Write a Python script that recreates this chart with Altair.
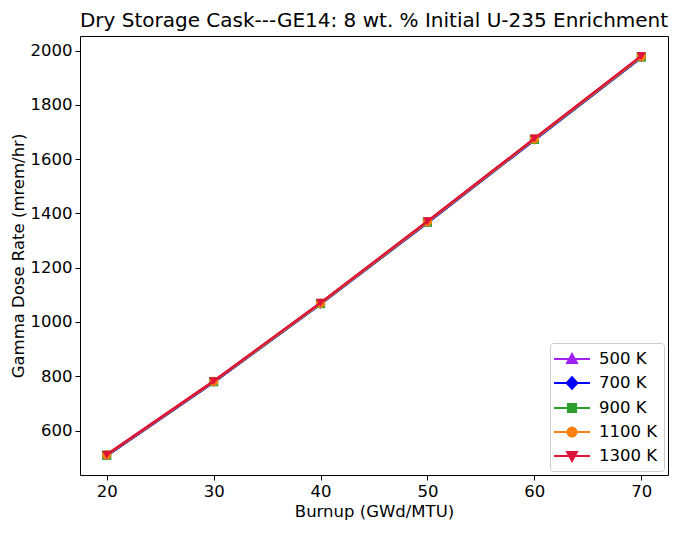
import altair as alt
import pandas as pd

burnup = [20, 30, 40, 50, 60, 70]
series_names = ["500 K", "700 K", "900 K", "1100 K", "1300 K"]
dose_500 = [508, 779, 1067, 1367, 1672, 1976]
dose_700 = [507, 778, 1066, 1366, 1671, 1975]
dose_900 = [509, 780, 1068, 1368, 1673, 1977]
dose_1100 = [510, 781, 1069, 1369, 1674, 1978]
dose_1300 = [511, 782, 1071, 1371, 1676, 1980]
colors = ["#a020f0", "#0000ff", "#2ca02c", "#ff7f0e", "#dc143c"]
markers = ["triangle-up", "diamond", "square", "circle", "triangle-down"]
legend_paths = [
    "M-2,0H2M-0.55,0.45L0,-0.55L0.55,0.45Z",
    "M-2,0H2M0,-0.65L0.6,0L0,0.65L-0.6,0Z",
    "M-2,0H2M-0.45,-0.45H0.45V0.45H-0.45Z",
    "M-2,0H2M-0.5,0A0.5,0.5 0 1,0 0.5,0A0.5,0.5 0 1,0 -0.5,0Z",
    "M-2,0H2M-0.55,-0.45L0,0.55L0.55,-0.45Z",
]

all_doses = [dose_500, dose_700, dose_900, dose_1100, dose_1300]
rows = []
for name, vals in zip(series_names, all_doses):
    for b, v in zip(burnup, vals):
        rows.append({"series": name, "burnup": b, "dose": v})
df = pd.DataFrame(rows)

x_enc = alt.X("burnup:Q", scale=alt.Scale(domain=[17.5, 72.5], nice=False, zero=False),
              axis=alt.Axis(title="Burnup (GWd/MTU)", values=[20, 30, 40, 50, 60, 70], format="d"))
y_enc = alt.Y("dose:Q", scale=alt.Scale(domain=[436, 2054], nice=False, zero=False),
              axis=alt.Axis(title="Gamma Dose Rate (mrem/hr)", format="d",
                            values=[600, 800, 1000, 1200, 1400, 1600, 1800, 2000]))

layers = []
for name, col, mk in zip(series_names, colors, markers):
    base = alt.Chart(df).transform_filter(alt.datum.series == name)
    layers.append(base.mark_line(color=col, strokeWidth=2.5).encode(x=x_enc, y=y_enc))
    layers.append(base.mark_point(filled=True, color=col, shape=mk, size=85, opacity=1).encode(x=x_enc, y=y_enc))

leg = alt.Legend(orient="bottom-right", offset=4, symbolOpacity=1)
legend_layer = alt.Chart(df).transform_filter(alt.datum.burnup == 20).mark_point(filled=True).encode(
    x=x_enc, y=y_enc,
    opacity=alt.value(0),
    fill=alt.Fill("series:N", scale=alt.Scale(domain=series_names, range=colors), title=None, legend=leg),
    stroke=alt.Stroke("series:N", scale=alt.Scale(domain=series_names, range=colors), title=None, legend=leg),
    shape=alt.Shape("series:N", scale=alt.Scale(domain=series_names, range=legend_paths), title=None, legend=leg),
)

chart = alt.layer(*layers, legend_layer).properties(
    width=588, height=439,
    title=alt.Title("Dry Storage Cask---GE14: 8 wt. % Initial U-235 Enrichment",
                    font="DejaVu Sans", fontSize=20, fontWeight="normal", color="#000000", offset=5),
    autosize=alt.AutoSizeParams(type="none"),
    padding={"left": 72, "top": 28, "right": 1, "bottom": 46},
).configure_view(
    stroke="#000000", strokeWidth=1
).configure_axis(
    grid=False, domain=False, tickColor="#000000", tickSize=5, tickWidth=1,
    labelFont="DejaVu Sans", labelFontSize=16.5, labelColor="#000000",
    titleFont="DejaVu Sans", titleFontSize=16.5, titleFontWeight="normal", titleColor="#000000",
    labelPadding=3,
).configure_axisX(titlePadding=4).configure_axisY(titlePadding=4).configure_legend(
    labelFont="DejaVu Sans", labelFontSize=16.5, labelColor="#000000",
    symbolSize=324, symbolStrokeWidth=2, symbolOffset=6, labelOffset=17,
    rowPadding=5, padding=6, strokeColor="#cccccc", fillColor="#ffffff", cornerRadius=3,
    symbolType="circle",
)

chart.save("out.html", embed_options={"renderer": "svg", "actions": False})
